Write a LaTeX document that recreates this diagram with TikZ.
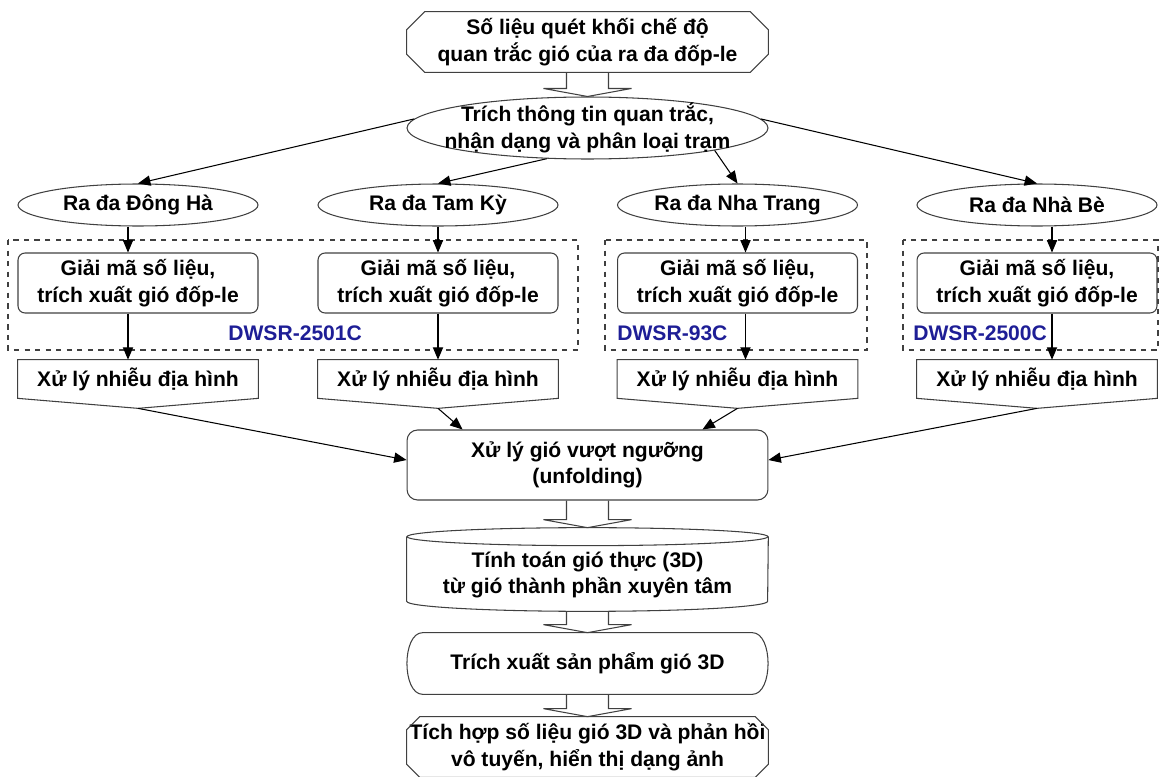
\documentclass[tikz,border=0pt]{standalone}
\usepackage{fontspec}
\setmainfont{Liberation Sans}
\usepackage{tikz}
\usetikzlibrary{arrows}
\usetikzlibrary{calc}
\usetikzlibrary{shapes.geometric}
\definecolor{dwsrblue}{RGB}{30,30,150}
\newcommand{\fatarrow}[2]{%
  \draw[box line] ($#1+(-21,0)$) -- ($#2+(-21,-8)$) -- ($#2+(-44,-8)$) -- #2
    -- ($#2+(44,-8)$) -- ($#2+(21,-8)$) -- ($#1+(21,0)$);}

\begin{document}
\begin{tikzpicture}[
    x=0.02cm, y=-0.02cm,
    every node/.style={font=\bfseries\fontsize{12}{15}\selectfont, align=center, inner sep=0pt},
    box line/.style={draw=black!75, line width=0.6pt},
    flow arrow/.style={->, >=triangle 45, line width=0.6pt},
    wide box/.style={rectangle, minimum width=7.22cm, minimum height=1.2cm},
    oval/.style={ellipse, box line, inner xsep=-10pt, inner ysep=-4pt},
    round box/.style={rectangle, rounded corners=4pt, box line, minimum width=4.8cm, minimum height=1.2cm},
    noise box/.style={rectangle, minimum width=4.8cm, minimum height=0.76cm},
    group line/.style={dashed, draw=black!75, line width=0.6pt},
    model label/.style={text=dwsrblue, anchor=west}
    ]
    \useasboundingbox (0,0) rectangle (1160,777);

    % input and station sorting
    \node (src) [wide box] at (587.5,42) {Số liệu quét khối chế độ\\quan trắc gió của ra đa đốp-le};
    \draw[box line] ($(src.north west)+(18,0)$) -- ($(src.north east)+(-18,0)$) -- ($(src.north east)+(0,18)$)
        -- ($(src.south east)+(0,-18)$) -- ($(src.south east)+(-18,0)$) -- ($(src.south west)+(18,0)$)
        -- ($(src.south west)+(0,-18)$) -- ($(src.north west)+(0,18)$) -- cycle;
    \node (tri) [oval, minimum width=7.22cm, minimum height=1.24cm] at (587.5,128) {Trích thông tin quan trắc,\\nhận dạng và phân loại trạm};
    % stations
    \node (dh) [oval, minimum width=4.8cm, minimum height=0.84cm] at (138,205) {Ra đa Đông Hà};
    \node (tk) [oval, minimum width=4.8cm, minimum height=0.84cm] at (438,205) {Ra đa Tam Kỳ};
    \node (nt) [oval, minimum width=4.8cm, minimum height=0.84cm] at (737.5,205) {Ra đa Nha Trang};
    \node (nb) [oval, minimum width=4.8cm, minimum height=0.84cm] at (1037,205) {Ra đa Nhà Bè};
    % radar types
    \draw[group line] (8,240) rectangle (578,350);
    \draw[group line] (605,240) rectangle (867,350);
    \draw[group line] (903,240) rectangle (1158,350);
    \node (m1) [model label] at (228,333) {DWSR-2501C};
    \node (m2) [model label] at (617,333) {DWSR-93C};
    \node (m3) [model label] at (913,333) {DWSR-2500C};
    % decoding
    \node (gm1) [round box] at (138,283) {Giải mã số liệu,\\trích xuất gió đốp-le};
    \node (gm2) [round box] at (438,283) {Giải mã số liệu,\\trích xuất gió đốp-le};
    \node (gm3) [round box] at (737.5,283) {Giải mã số liệu,\\trích xuất gió đốp-le};
    \node (gm4) [round box] at (1037,283) {Giải mã số liệu,\\trích xuất gió đốp-le};
    % terrain clutter
    \node (xl1) [noise box] at (138,379) {Xử lý nhiễu địa hình};
    \node (xl2) [noise box] at (438,379) {Xử lý nhiễu địa hình};
    \node (xl3) [noise box] at (737.5,379) {Xử lý nhiễu địa hình};
    \node (xl4) [noise box] at (1037,379) {Xử lý nhiễu địa hình};
    \coordinate (xl1tip) at ($(xl1.south)+(0,10)$);
    \coordinate (xl2tip) at ($(xl2.south)+(0,10)$);
    \coordinate (xl3tip) at ($(xl3.south)+(0,10)$);
    \coordinate (xl4tip) at ($(xl4.south)+(0,10)$);
    \draw[box line] (xl1.north west) -- (xl1.north east) -- (xl1.south east) -- (xl1tip) -- (xl1.south west) -- cycle;
    \draw[box line] (xl2.north west) -- (xl2.north east) -- (xl2.south east) -- (xl2tip) -- (xl2.south west) -- cycle;
    \draw[box line] (xl3.north west) -- (xl3.north east) -- (xl3.south east) -- (xl3tip) -- (xl3.south west) -- cycle;
    \draw[box line] (xl4.north west) -- (xl4.north east) -- (xl4.south east) -- (xl4tip) -- (xl4.south west) -- cycle;
    % merged steps
    \node (uf) [round box, rounded corners=6pt, minimum width=7.22cm, minimum height=1.4cm] at (587.5,465) {Xử lý gió vượt ngưỡng\\(unfolding)};
    \node (cyl) [wide box] at (587.5,575) {Tính toán gió thực (3D)\\từ gió thành phần xuyên tâm};
    \coordinate (cyltop) at ($(cyl.north)+(0,-17)$);
    \coordinate (cylbot) at ($(cyl.south)+(0,6)$);
    \draw[box line] ($(cyl.north west)+(0,-8)$) -- ($(cyl.south west)+(0,-4)$)
        arc[start angle=180, end angle=360, x radius=3.61cm, y radius=0.2cm] -- ($(cyl.north east)+(0,-8)$);
    \draw[box line] ($(cyl.north)+(0,-8)$) ellipse [x radius=3.61cm, y radius=0.18cm];
    \node (ext) [wide box, minimum height=1.22cm] at (587.5,663.5) {Trích xuất sản phẩm gió 3D};
    \draw[box line] ($(ext.north west)+(16,0)$) -- ($(ext.north east)+(-16,0)$)
        .. controls ($(ext.north east)+(5,0)$) and ($(ext.south east)+(5,0)$) .. ($(ext.south east)+(-16,0)$)
        -- ($(ext.south west)+(16,0)$)
        .. controls ($(ext.south west)+(-5,0)$) and ($(ext.north west)+(-5,0)$) .. cycle;
    \node (out) [wide box] at (587.5,747) {Tích hợp số liệu gió 3D và phản hồi\\vô tuyến, hiển thị dạng ảnh};
    \draw[box line] ($(out.north west)+(13,0)$) -- ($(out.north east)+(-13,0)$) -- ($(out.north east)+(0,13)$)
        -- ($(out.south east)+(0,-13)$) -- ($(out.south east)+(-13,0)$) -- ($(out.south west)+(13,0)$)
        -- ($(out.south west)+(0,-13)$) -- ($(out.north west)+(0,13)$) -- cycle;

    % arrows to stations
    \draw[flow arrow] (tri.177) -- (dh.north);
    \draw[flow arrow] (tri.217) -- (tk.north);
    \draw[flow arrow] (tri.350) -- (nt.north);
    \draw[flow arrow] (tri.3) -- (nb.north);
    % station columns
    \draw[flow arrow] ($(dh.south)+(-10,0)$) -- ($(gm1.north)+(-10,0)$);
    \draw[flow arrow] ($(gm1.south)+(-10,0)$) -- ($(xl1.north)+(-10,0)$);
    \draw[flow arrow] (tk.south) -- (gm2.north);
    \draw[flow arrow] (gm2.south) -- (xl2.north);
    \draw[flow arrow] ($(nt.south)+(8,0)$) -- ($(gm3.north)+(8,0)$);
    \draw[flow arrow] ($(gm3.south)+(8,0)$) -- ($(xl3.north)+(8,0)$);
    \draw[flow arrow] ($(nb.south)+(15,0)$) -- ($(gm4.north)+(15,0)$);
    \draw[flow arrow] ($(gm4.south)+(15,0)$) -- ($(xl4.north)+(15,0)$);
    % into unfolding
    \draw[flow arrow] (xl1tip) -- ($(uf.west)+(0,-5)$);
    \draw[flow arrow] (xl2tip) -- ($(uf.north west)+(56,0)$);
    \draw[flow arrow] (xl3tip) -- ($(uf.north east)+(-66,0)$);
    \draw[flow arrow] (xl4tip) -- ($(uf.east)+(0,-5)$);
    % block arrows
    \fatarrow{(src.south)}{(tri.north)}
    \fatarrow{(uf.south)}{(cyltop)}
    \fatarrow{(cylbot)}{(ext.north)}
    \fatarrow{(ext.south)}{(out.north)}
\end{tikzpicture}
\end{document}
